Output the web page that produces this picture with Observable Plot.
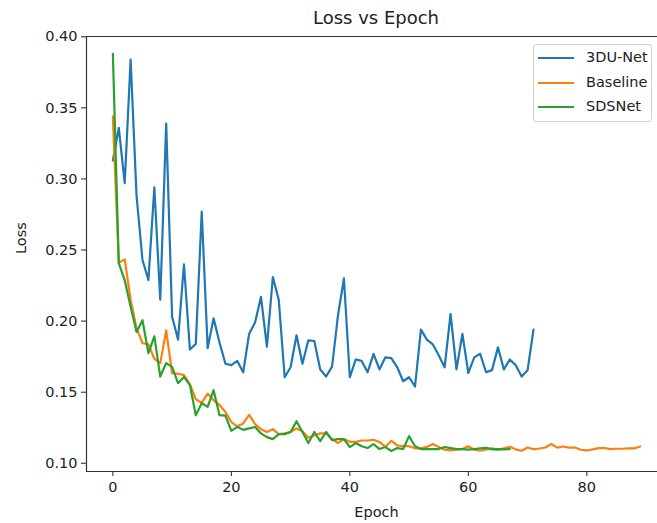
<!DOCTYPE html>
<html>
<head>
<meta charset="utf-8">
<script src="https://cdn.jsdelivr.net/npm/d3@7"></script>
<script src="https://cdn.jsdelivr.net/npm/@observablehq/plot@0.6"></script>
<style>
  html, body { margin: 0; padding: 0; background: #fff; overflow: hidden; }
  #wrap { position: relative; width: 657px; height: 523px; overflow: hidden; font-family: "DejaVu Sans", sans-serif; color: #222; }
  #title { position: relative; height: 26px; }
  #title span { position: absolute; left: 226px; width: 300px; top: 9px; text-align: center; font-size: 18px; line-height: 18px; }
  #chart { width: 670px; }
  #chart svg { max-width: none !important; }
  #legend { position: absolute; left: 533px; top: 44px; width: 119px; height: 78px; border: 1px solid #d0d0d0; border-radius: 3px; background: rgba(255,255,255,0.85); box-sizing: border-box; }
  .row { position: absolute; left: 0; height: 20px; width: 100%; }
  .row svg { position: absolute; left: 3px; top: 0; }
  .row span { position: absolute; left: 52px; top: 0px; font-size: 14.5px; line-height: 18px; white-space: nowrap; }
</style>
</head>
<body>
<div id="wrap">
  <div id="title"><span>Loss vs Epoch</span></div>
  <div id="chart"></div>
  <div id="legend"></div>
</div>
<script>
// ---- data ----
const seriesNames = ["3DU-Net", "Baseline", "SDSNet"];
const seriesColors = ["#1f77b4", "#ff7f0e", "#2ca02c"];

const unetLoss = [
  0.313, 0.336, 0.297, 0.384, 0.288, 0.243, 0.229, 0.294, 0.215, 0.339,
  0.203, 0.187, 0.240, 0.180, 0.184, 0.277, 0.181, 0.202, 0.185, 0.170,
  0.169, 0.172, 0.164, 0.191, 0.199, 0.217, 0.182, 0.231, 0.215, 0.1605,
  0.1675, 0.190, 0.170, 0.1865, 0.186, 0.166, 0.161, 0.168, 0.204, 0.230,
  0.1605, 0.173, 0.172, 0.164, 0.177, 0.166, 0.1745, 0.174, 0.1675, 0.1577,
  0.1605, 0.154, 0.194, 0.187, 0.1837, 0.176, 0.1675, 0.205, 0.166, 0.191,
  0.1635, 0.1745, 0.177, 0.164, 0.1655, 0.1815, 0.166, 0.173, 0.169, 0.161,
  0.1655, 0.194
];

const baselineLoss = [
  0.344, 0.241, 0.2434, 0.215, 0.195, 0.1845, 0.1837, 0.1735, 0.1704, 0.1935,
  0.1633, 0.163, 0.162, 0.1556, 0.145, 0.1425, 0.149, 0.1444, 0.141, 0.136,
  0.129, 0.126, 0.128, 0.134, 0.1275, 0.124, 0.122, 0.124, 0.1205, 0.121,
  0.122, 0.1245, 0.1225, 0.118, 0.1195, 0.121, 0.121, 0.117, 0.1142, 0.117,
  0.1151, 0.115, 0.116, 0.116, 0.1165, 0.115, 0.1115, 0.1158, 0.1125, 0.112,
  0.112, 0.1105, 0.1105, 0.1115, 0.1135, 0.1115, 0.1095, 0.109, 0.1095, 0.110,
  0.112, 0.1095, 0.1088, 0.1098, 0.1105, 0.1095, 0.1105, 0.1116, 0.1098, 0.1088,
  0.1111, 0.1098, 0.1104, 0.1111, 0.1135, 0.111, 0.1118, 0.111, 0.1111, 0.1095,
  0.109, 0.1098, 0.1106, 0.1106, 0.1100, 0.1102, 0.1102, 0.1104, 0.1104, 0.1118
];

const sdsnetLoss = [
  0.388, 0.2408, 0.2287, 0.210, 0.1924, 0.2006, 0.1774, 0.1893, 0.161, 0.1704,
  0.1678, 0.1563, 0.1607, 0.155, 0.1338, 0.1423, 0.1397, 0.1514, 0.1338, 0.1335,
  0.1228, 0.1256, 0.1235, 0.1245, 0.1255, 0.121, 0.1184, 0.117, 0.1205, 0.1205,
  0.122, 0.1296, 0.122, 0.1142, 0.122, 0.1156, 0.122, 0.1163, 0.117, 0.117,
  0.1114, 0.1142, 0.112, 0.1107, 0.1135, 0.110, 0.1114, 0.1086, 0.1107, 0.110,
  0.1191, 0.112, 0.110, 0.110, 0.110, 0.110, 0.1114, 0.1107, 0.110, 0.110,
  0.1096, 0.110, 0.1105, 0.1108, 0.1098, 0.110, 0.1098, 0.110
];

const xTicks = [0, 20, 40, 60, 80];
const yTicks = [0.10, 0.15, 0.20, 0.25, 0.30, 0.35, 0.40];
const titleText = "Loss vs Epoch";
const xLabel = "Epoch";
const yLabel = "Loss";

// ---- build table ----
const allSeries = [unetLoss, baselineLoss, sdsnetLoss];
const rows = allSeries.flatMap((vals, k) =>
  vals.map((v, i) => ({ epoch: i, loss: v, model: seriesNames[k] })));

const maxEpoch = d3.max(rows, d => d.epoch);
const xPad = maxEpoch * 0.05;
const xDomain = [-xPad, maxEpoch + xPad];
const yDomain = [0.0942, 0.4002];

const chart = Plot.plot({
  width: 670,
  height: 497,
  marginLeft: 86,
  marginRight: 4,
  marginTop: 10,
  marginBottom: 52,
  style: { fontFamily: "DejaVu Sans, sans-serif", fontSize: "14.5px", color: "#222", background: "#fff" },
  x: { domain: xDomain, ticks: xTicks, tickSize: 5, tickPadding: 5, label: null },
  y: { domain: yDomain, ticks: yTicks, tickFormat: d3.format(".2f"), tickSize: 5, tickPadding: 4, label: null },
  color: { domain: seriesNames, range: seriesColors },
  marks: [
    Plot.ruleY(yDomain, { stroke: "#333", strokeWidth: 1.2 }),
    Plot.ruleX([xDomain[0]], { stroke: "#333", strokeWidth: 1.2 }),
    Plot.line(rows, { x: "epoch", y: "loss", z: "model", stroke: "model", strokeWidth: 2.2, strokeLinejoin: "round" }),
    Plot.text([xLabel], { text: d => d, frameAnchor: "bottom", dy: 45, fontSize: 14.5, fill: "#222" }),
    Plot.text([yLabel], { text: d => d, frameAnchor: "left", dx: -65, rotate: -90, fontSize: 14.5, fill: "#222" })
  ]
});
document.getElementById("chart").appendChild(chart);
document.querySelector("#title span").textContent = titleText;

// ---- legend ----
const legend = document.getElementById("legend");
seriesNames.forEach((name, i) => {
  const row = document.createElement("div");
  row.className = "row";
  row.style.top = (3 + i * 24.5) + "px";
  row.innerHTML = `<svg width="40" height="20"><line x1="1" x2="37" y1="10" y2="10" stroke="${seriesColors[i]}" stroke-width="2.2"/></svg><span>${name}</span>`;
  legend.appendChild(row);
});
</script>
</body>
</html>
